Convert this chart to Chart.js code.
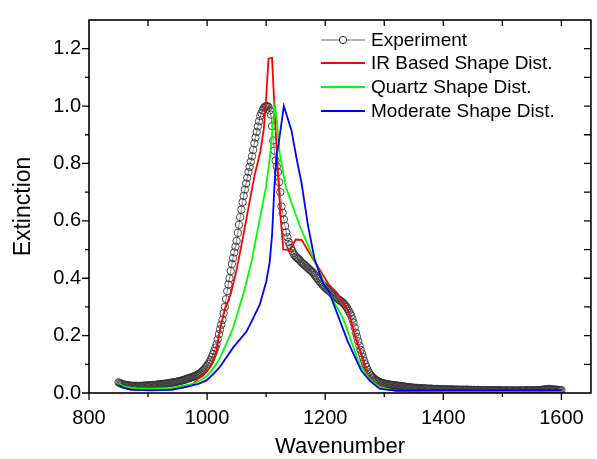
<!DOCTYPE html>
<html lang="en">
<head>
  <meta charset="UTF-8" />
  <title>Extinction vs Wavenumber</title>
  <script src="https://cdn.jsdelivr.net/npm/chart.js"></script>
  <style>
    html, body { margin: 0; padding: 0; background: #fff; }
    canvas { display: block; }
  </style>
</head>
<body>
  <canvas id="chart" width="597" height="459"></canvas>

  <script>
    // measured spectrum, sampled every 2 cm-1 from 850 to 1600
    const expStart = 850;
    const expStep = 2;
    const experiment = [
      0.037,0.035,0.033,0.032,0.030,0.029,0.028,0.027,0.027,0.026,
      0.026,0.025,0.025,0.025,0.025,0.025,0.025,0.024,0.025,0.025,
      0.025,0.025,0.026,0.026,0.026,0.026,0.027,0.027,0.027,0.028,
      0.028,0.028,0.029,0.029,0.030,0.030,0.031,0.031,0.032,0.032,
      0.033,0.033,0.034,0.035,0.035,0.036,0.037,0.037,0.038,0.039,
      0.040,0.041,0.042,0.043,0.044,0.045,0.046,0.048,0.049,0.051,
      0.052,0.054,0.055,0.057,0.058,0.060,0.062,0.064,0.066,0.069,
      0.072,0.076,0.080,0.085,0.090,0.095,0.101,0.108,0.115,0.125,
      0.135,0.146,0.158,0.170,0.187,0.205,0.222,0.238,0.255,0.278,
      0.300,0.327,0.355,0.378,0.400,0.425,0.450,0.470,0.490,0.510,
      0.530,0.558,0.586,0.613,0.639,0.665,0.687,0.709,0.730,0.750,
      0.770,0.788,0.806,0.825,0.847,0.870,0.890,0.910,0.929,0.947,
      0.965,0.975,0.985,0.993,0.998,1.000,1.000,0.997,0.985,0.970,
      0.930,0.880,0.845,0.810,0.790,0.770,0.735,0.700,0.650,0.628,
      0.605,0.582,0.560,0.543,0.527,0.516,0.505,0.496,0.487,0.481,
      0.475,0.472,0.468,0.465,0.460,0.455,0.451,0.448,0.444,0.441,
      0.437,0.433,0.429,0.426,0.422,0.418,0.412,0.407,0.401,0.396,
      0.390,0.385,0.381,0.376,0.372,0.367,0.364,0.360,0.357,0.353,
      0.350,0.346,0.342,0.338,0.334,0.330,0.327,0.324,0.321,0.318,
      0.315,0.310,0.305,0.300,0.293,0.286,0.278,0.270,0.258,0.245,
      0.228,0.210,0.195,0.180,0.165,0.150,0.138,0.125,0.112,0.100,
      0.090,0.080,0.072,0.065,0.060,0.055,0.052,0.048,0.045,0.043,
      0.040,0.038,0.036,0.035,0.034,0.033,0.032,0.031,0.030,0.030,
      0.029,0.028,0.028,0.027,0.027,0.026,0.026,0.025,0.025,0.024,
      0.024,0.023,0.022,0.022,0.021,0.020,0.020,0.020,0.019,0.019,
      0.018,0.018,0.018,0.017,0.017,0.017,0.017,0.016,0.016,0.016,
      0.016,0.015,0.015,0.015,0.015,0.015,0.014,0.014,0.014,0.014,
      0.014,0.013,0.013,0.013,0.013,0.013,0.013,0.012,0.013,0.012,
      0.012,0.012,0.013,0.012,0.011,0.012,0.012,0.011,0.012,0.011,
      0.011,0.012,0.011,0.011,0.011,0.012,0.011,0.010,0.011,0.011,
      0.010,0.011,0.010,0.010,0.011,0.010,0.010,0.010,0.009,0.010,
      0.010,0.009,0.010,0.009,0.009,0.010,0.009,0.009,0.010,0.009,
      0.009,0.009,0.009,0.010,0.009,0.009,0.008,0.009,0.009,0.009,
      0.009,0.008,0.009,0.009,0.009,0.008,0.009,0.009,0.008,0.009,
      0.009,0.009,0.009,0.008,0.009,0.009,0.009,0.010,0.009,0.009,
      0.009,0.009,0.010,0.009,0.009,0.010,0.010,0.010,0.011,0.011,
      0.012,0.012,0.013,0.013,0.014,0.014,0.013,0.013,0.012,0.012,
      0.012,0.011,0.011,0.010,0.010,0.010
    ];

    // IR based shape distribution
    const irX = [850,860,870,880,900,920,940,960,975,985,993,1000,1005,1010,1016,1022,1030,1040,1050,1060,1070,1080,1090,1096,1100,1104,1110,1113,1117,1121,1125,1129,1140,1150,1160,1180,1207,1221,1238,1244,1252,1261,1272,1286,1303,1320,1350,1400,1500,1600];
    const irY = [0.028,0.018,0.013,0.011,0.011,0.012,0.014,0.020,0.030,0.050,0.060,0.078,0.092,0.115,0.150,0.225,0.290,0.345,0.430,0.535,0.645,0.755,0.840,0.920,1.030,1.165,1.168,1.040,0.880,0.730,0.600,0.500,0.497,0.535,0.534,0.465,0.376,0.347,0.290,0.250,0.187,0.135,0.061,0.032,0.015,0.007,0.004,0.003,0.003,0.003];

    // quartz shape distribution
    const qzX = [850,860,880,903,940,976,990,1000,1010,1019,1030,1044,1061,1075,1089,1100,1107,1111,1115,1118,1123,1133,1157,1180,1205,1230,1244,1258,1275,1292,1310,1350,1400,1500,1600];
    const qzY = [0.032,0.022,0.016,0.015,0.018,0.032,0.045,0.060,0.085,0.112,0.160,0.227,0.342,0.456,0.605,0.720,0.834,0.930,1.000,0.950,0.834,0.720,0.582,0.470,0.353,0.261,0.181,0.100,0.049,0.021,0.012,0.009,0.008,0.008,0.008];

    // moderate shape distribution
    const mdX = [850,857,870,903,940,965,985,999,1010,1021,1044,1067,1089,1100,1106,1110,1114,1118,1121,1130,1143,1151,1160,1171,1182,1196,1207,1221,1238,1261,1275,1292,1310,1400,1500,1600];
    const mdY = [0.028,0.020,0.012,0.009,0.011,0.021,0.032,0.044,0.065,0.089,0.158,0.215,0.307,0.387,0.456,0.550,0.720,0.834,0.868,1.000,0.914,0.823,0.731,0.582,0.467,0.385,0.350,0.273,0.181,0.078,0.044,0.015,0.010,0.010,0.010,0.010];

    const xTickValues = [800, 1000, 1200, 1400, 1600];
    const yTickValues = [0, 0.2, 0.4, 0.6, 0.8, 1.0, 1.2];

    const pairs = (xs, ys) => ys.map((v, i) => ({ x: xs[i], y: v }));
    const expPoints = experiment.map((v, i) => ({ x: expStart + i * expStep, y: v }));

    const FONT = "'Liberation Sans', Arial, sans-serif";

    // box frame, in/out tick marks and the legend, drawn over the chart
    const frameAndLegend = {
      id: "frameAndLegend",
      afterDraw(chart) {
        const { ctx, chartArea: a, scales } = chart;
        const x = scales.x, y = scales.y;
        ctx.save();
        ctx.strokeStyle = "#000";
        ctx.lineWidth = 1.6;
        ctx.strokeRect(a.left, a.top, a.right - a.left, a.bottom - a.top);

        ctx.lineWidth = 1.3;
        ctx.beginPath();
        for (let v = 800; v <= 1600; v += 100) {
          const px = x.getPixelForValue(v);
          const major = v % 200 === 0;
          ctx.moveTo(px, a.bottom);
          ctx.lineTo(px, a.bottom + (major ? 7 : 4));
          if (v > 800) {
            ctx.moveTo(px, a.top);
            ctx.lineTo(px, a.top + 6);
          }
        }
        for (let i = 0; i <= 12; i++) {
          const py = y.getPixelForValue(i / 10);
          ctx.moveTo(a.left, py);
          ctx.lineTo(a.left - (i % 2 === 0 ? 7 : 4), py);
          if (i > 0) {
            ctx.moveTo(a.right, py);
            ctx.lineTo(a.right - 7, py);
          }
        }
        ctx.stroke();

        // legend
        const rows = [40, 63, 87, 111];
        ctx.font = "19px " + FONT;
        ctx.textBaseline = "middle";
        ctx.fillStyle = "#000";
        chart.data.datasets.forEach((ds, i) => {
          const ry = rows[i];
          ctx.beginPath();
          ctx.strokeStyle = ds.legendColor;
          ctx.lineWidth = ds.pointRadius ? 1 : 2;
          ctx.moveTo(321, ry);
          ctx.lineTo(365, ry);
          ctx.stroke();
          if (ds.pointRadius) {
            ctx.beginPath();
            ctx.fillStyle = "#fff";
            ctx.arc(343, ry, 3.6, 0, Math.PI * 2);
            ctx.fill();
            ctx.strokeStyle = "#222";
            ctx.stroke();
            ctx.fillStyle = "#000";
          }
          ctx.fillText(ds.label, 371, ry + 1);
        });
        ctx.restore();
      }
    };

    new Chart(document.getElementById("chart"), {
      type: "line",
      data: {
        datasets: [
          {
            label: "Experiment",
            data: expPoints,
            borderColor: "#666",
            legendColor: "#666",
            borderWidth: 0.8,
            pointRadius: 3.7,
            pointBorderWidth: 0.9,
            pointBorderColor: "#333",
            pointBackgroundColor: "rgba(255,255,255,0)",
            order: 4
          },
          {
            label: "IR Based Shape Dist.",
            data: pairs(irX, irY),
            borderColor: "#ff0000",
            legendColor: "#ff0000",
            borderWidth: 1.8,
            pointRadius: 0,
            order: 3
          },
          {
            label: "Quartz Shape Dist.",
            data: pairs(qzX, qzY),
            borderColor: "#00ff00",
            legendColor: "#00ff00",
            borderWidth: 1.8,
            pointRadius: 0,
            order: 2
          },
          {
            label: "Moderate Shape Dist.",
            data: pairs(mdX, mdY),
            borderColor: "#0000ff",
            legendColor: "#0000ff",
            borderWidth: 1.8,
            pointRadius: 0,
            order: 1
          }
        ]
      },
      options: {
        responsive: false,
        animation: false,
        devicePixelRatio: 1,
        layout: { padding: { top: 14, right: 6, left: 0, bottom: 0 } },
        plugins: { legend: { display: false }, tooltip: { enabled: false } },
        scales: {
          x: {
            type: "linear",
            min: 800,
            max: 1650,
            afterBuildTicks: (s) => { s.ticks = xTickValues.map(v => ({ value: v })); },
            afterFit: (s) => { s.height = 66; },
            grid: { display: false, drawTicks: false },
            border: { display: false },
            ticks: { color: "#000", padding: 13, maxRotation: 0, autoSkip: false,
                      callback: (v) => String(v),
                      font: { family: FONT, size: 20 } },
            title: { display: true, text: "Wavenumber", color: "#000",
                     font: { family: FONT, size: 22, lineHeight: 1 }, padding: 1 }
          },
          y: {
            min: 0,
            max: 1.3,
            afterBuildTicks: (s) => { s.ticks = yTickValues.map(v => ({ value: v })); },
            afterFit: (s) => { s.width = 89; },
            grid: { display: false, drawTicks: false },
            border: { display: false },
            ticks: { color: "#000", padding: 8, autoSkip: false,
                     callback: (v) => Number(v).toFixed(1),
                     font: { family: FONT, size: 20 } },
            title: { display: true, text: "Extinction", color: "#000",
                     font: { family: FONT, size: 23, lineHeight: 1 }, padding: { top: 12, bottom: 0 } }
          }
        }
      },
      plugins: [frameAndLegend]
    });
  </script>
</body>
</html>
